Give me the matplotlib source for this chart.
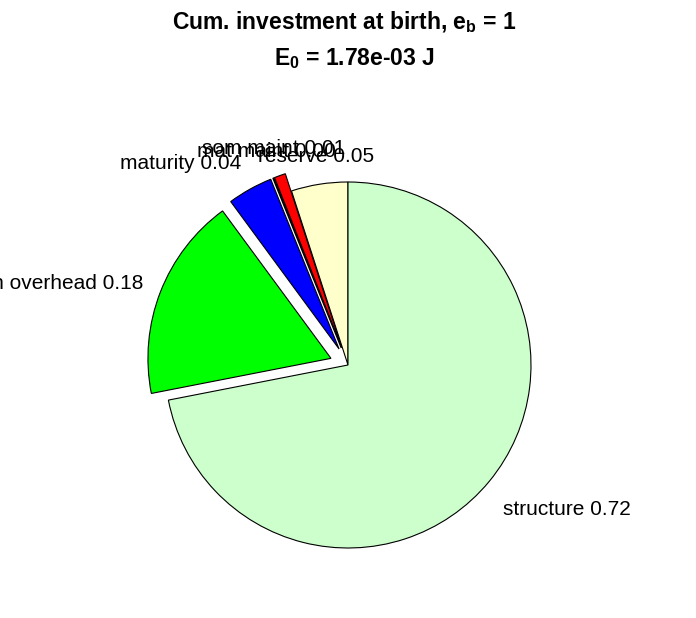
import matplotlib
matplotlib.use("Agg")
import matplotlib.pyplot as plt
from matplotlib.transforms import offset_copy

labels = ["reserve", "som maint", "mat maint", "maturity", "growth overhead", "structure"]
values = [0.05, 0.01, 0.001, 0.04, 0.18, 0.72]
shown = [0.05, 0.01, 0.00, 0.04, 0.18, 0.72]
colors = ["#FFFFCC", "#FF0000", "#FF00FF", "#0000FF", "#00FF00", "#CCFFCC"]
explode = [0, 0.1, 0.1, 0.1, 0.1, 0]
halign = ["center", "center", "center", "right", "right", "left"]
valign = ["bottom", "bottom", "bottom", "bottom", "center", "top"]
dy_pts = [0, 0, 0, 0, 1, -5]

plt.rcParams["font.family"] = ["Liberation Sans", "DejaVu Sans"]
plt.rcParams["mathtext.fontset"] = "custom"
plt.rcParams["mathtext.rm"] = "Liberation Sans:bold"
plt.rcParams["mathtext.bf"] = "Liberation Sans:bold"
plt.rcParams["mathtext.it"] = "Liberation Sans:bold"

W, H = 696, 618
fig = plt.figure(figsize=(W / 100, H / 100), dpi=100)
scale = 183.0
cx, cy = 348, 618 - 365
xr, yr = 1.5, 1.3
ax = fig.add_axes([(cx - xr * scale) / W, (cy - yr * scale) / H,
                   2 * xr * scale / W, 2 * yr * scale / H])

texts = [f"{l} {v:.2f}" for l, v in zip(labels, shown)]
wedges, ltexts = ax.pie(values, labels=texts, colors=colors, explode=explode,
                        startangle=90, counterclock=True, labeldistance=1.1,
                        wedgeprops=dict(edgecolor="black", linewidth=0.8),
                        textprops=dict(fontsize=15, color="black"))
for t, ha, va, d in zip(ltexts, halign, valign, dy_pts):
    t.set_ha(ha)
    t.set_va(va)
    t.set_clip_on(False)
    if d:
        t.set_transform(offset_copy(ax.transData, fig=fig, x=0, y=d, units="points"))
ax.set_xlim(-xr, xr)
ax.set_ylim(-yr, yr)
ax.set_aspect("auto")
ax.axis("off")

fig.text(344 / W, 1 - 22 / H, r"Cum. investment at birth, $\mathregular{e_b}$ = 1",
         ha="center", va="center", fontsize=16.5, fontweight="bold")
fig.text(354 / W, 1 - 59 / H, r"$\mathregular{E_0}$ = 1.78e-03 J",
         ha="center", va="center", fontsize=16.5, fontweight="bold")

fig.savefig("out.png", dpi=100)
